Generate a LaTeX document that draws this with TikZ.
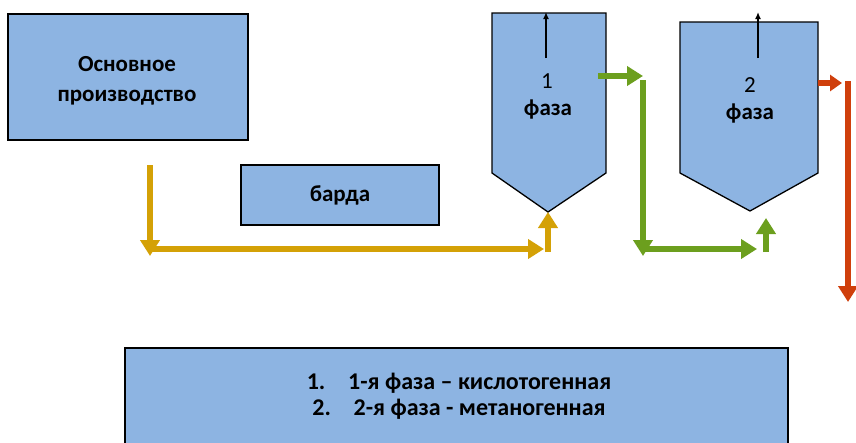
\documentclass[tikz,border=0pt]{standalone}
\usepackage{fontspec}
\setmainfont{Carlito}
\usepackage{tikz}
\usetikzlibrary{positioning, arrows.meta}

\definecolor{boxblue}{HTML}{8DB4E2}
\definecolor{flowgold}{HTML}{D4A106}
\definecolor{flowgreen}{HTML}{6C9F1E}
\definecolor{flowred}{HTML}{CF3F0C}

\tikzset{
  block/.style={draw=black, fill=boxblue, line width=1.3pt},
  flow/.style={line width=6pt, -{Triangle[length=16pt,width=19pt]}},
  gas/.style={line width=1.5pt, -{Latex[length=7pt,width=6pt]}},
}

\begin{document}
\begin{tikzpicture}[x=1pt, y=-1pt, every node/.style={font=\fontsize{23}{30}\selectfont\bfseries}]
    \useasboundingbox (0,0) rectangle (856,442);

    % boxes
    \node[block, minimum width=240pt, minimum height=126pt] (prod) at (128,77) {};
    \node[align=center] (prodtext) at (127,81) {Основное\\производство};
    \node[block, minimum width=198pt, minimum height=60pt] (barda) at (340,195) {барда};
    \node[block, minimum width=663pt, minimum height=110pt] (legend) at (456.5,403) {};
    \node[align=center, font=\fontsize{24}{26}\selectfont\bfseries] (phases) at (459,396)
        {1.\hspace{0.95em}1-я фаза – кислотогенная\\2.\hspace{0.95em}2-я фаза - метаногенная};

    % reactors
    \draw[block] (492,13) -- (606,13) -- (606,173) -- (548,212) -- (492,173) -- cycle;
    \draw[block] (680,22) -- (818,22) -- (818,173) -- (750,211) -- (680,173) -- cycle;
    \node[font=\fontsize{23}{28}\selectfont] (num1) at (547,81) {1};
    \node (phase1) at (548,110) {фаза};
    \node[font=\fontsize{23}{28}\selectfont] (num2) at (750,85) {2};
    \node (phase2) at (750,114) {фаза};

    % gas outlets
    \coordinate (gas1) at (546,58);
    \coordinate (out1) at (546,12);
    \coordinate (gas2) at (758,58);
    \coordinate (out2) at (758,12);
    \draw[gas] (gas1) -- (out1);
    \draw[gas] (gas2) -- (out2);

    % feed line
    \coordinate (feed) at (150,165);
    \coordinate (feedlow) at (150,256);
    \coordinate (feedstart) at (150,249);
    \coordinate (feedend) at (544,249);
    \coordinate (feedup) at (548,252);
    \coordinate (bottom1) at (548,212);
    \draw[flow, flowgold] (feed) -- (feedlow);
    \draw[flow, flowgold] (feedstart) -- (feedend);
    \draw[flow, flowgold] (feedup) -- (bottom1);

    % from phase 1 to phase 2
    \coordinate (exit1) at (598,76);
    \coordinate (turn1) at (643,76);
    \coordinate (down1) at (643,80);
    \coordinate (low1) at (643,256);
    \coordinate (run1) at (643,249);
    \coordinate (runend) at (757,249);
    \coordinate (up2) at (766,252);
    \coordinate (bottom2) at (766,218);
    \draw[flow, flowgreen] (exit1) -- (turn1);
    \draw[flow, flowgreen] (down1) -- (low1);
    \draw[flow, flowgreen] (run1) -- (runend);
    \draw[flow, flowgreen] (up2) -- (bottom2);

    % discharge
    \coordinate (exit2) at (818,83);
    \coordinate (turn2) at (842,83);
    \coordinate (down2) at (848,81);
    \coordinate (drain) at (848,302);
    \draw[flow, flowred, -{Triangle[length=12pt,width=16pt]}] (exit2) -- (turn2);
    \draw[flow, flowred] (down2) -- (drain);
\end{tikzpicture}
\end{document}
